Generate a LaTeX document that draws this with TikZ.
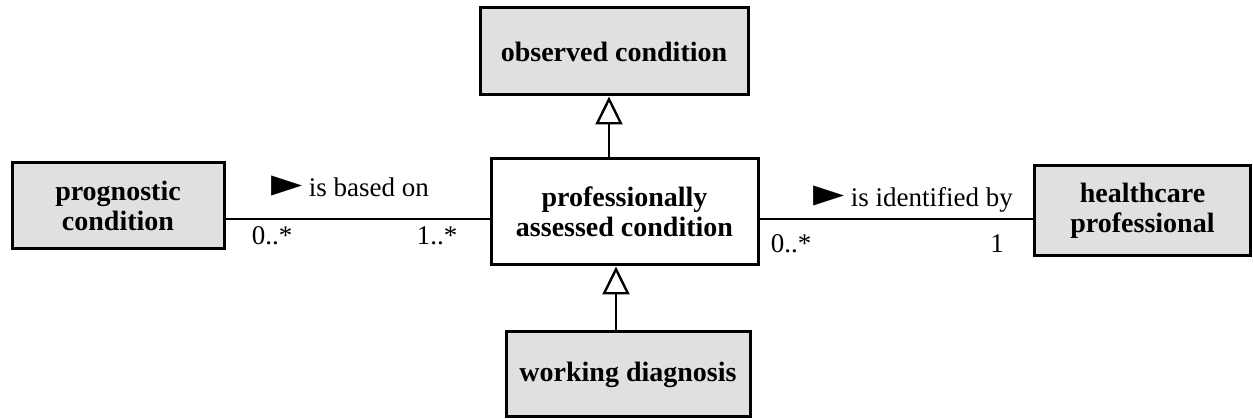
\documentclass[tikz,border=0pt]{standalone}
\usepackage{fontspec}
\setmainfont{Liberation Serif}
\newfontfamily\symfont[Scale=1.5]{DejaVu Sans}
\usetikzlibrary{arrows.meta}
\begin{document}
\begin{tikzpicture}[x=1pt,y=-1pt,
  classbox/.style={draw=black, line width=3pt, rectangle, align=center,
    font=\fontsize{28}{30}\selectfont\bfseries, inner sep=0pt},
  grey/.style={fill=black!12},
  assoc/.style={line width=2.2pt},
  gen/.style={line width=2.6pt, -{Triangle[open, width=27pt, length=28pt, line width=2.4pt]}},
  lbl/.style={font=\fontsize{27}{30}\selectfont, inner sep=0pt, anchor=base}
]
\useasboundingbox (0,0) rectangle (1253,419);

% classes
\node[classbox, grey, minimum width=268pt, minimum height=87pt] (obs) at (614,51.5) {observed condition};
\node[classbox, minimum width=267pt, minimum height=106pt] (pac) at (624.5,212) {professionally\\assessed condition};
\node[classbox, grey, minimum width=244pt, minimum height=85pt] (wd) at (628,374.5) {working diagnosis};
\node[classbox, grey, minimum width=212pt, minimum height=86pt] (prog) at (118,206) {prognostic\\condition};
\node[classbox, grey, minimum width=216pt, minimum height=90pt] (hp) at (1142.5,211) {healthcare\\professional};

% association lines
\coordinate (ay) at (0,219);
\draw[assoc] (prog.east |- ay) -- (pac.west |- ay);
\draw[assoc] (pac.east |- ay) -- (hp.west |- ay);

% generalisations
\draw[gen] ([xshift=-15.5pt]pac.north) -- ([xshift=-5pt]obs.south);
\draw[gen] ([xshift=-12pt]wd.north) -- ([xshift=-8.5pt]pac.south);

% association names and multiplicities
\node[lbl] (n1) at (350,197) {{\symfont ►} is based on};
\node[lbl] (n2) at (913,207) {{\symfont ►} is identified by};
\node[lbl] (m1) at (272,245) {0..*};
\node[lbl] (m2) at (437,245) {1..*};
\node[lbl] (m3) at (791,253) {0..*};
\node[lbl] (m4) at (997,253) {1};
\end{tikzpicture}
\end{document}
